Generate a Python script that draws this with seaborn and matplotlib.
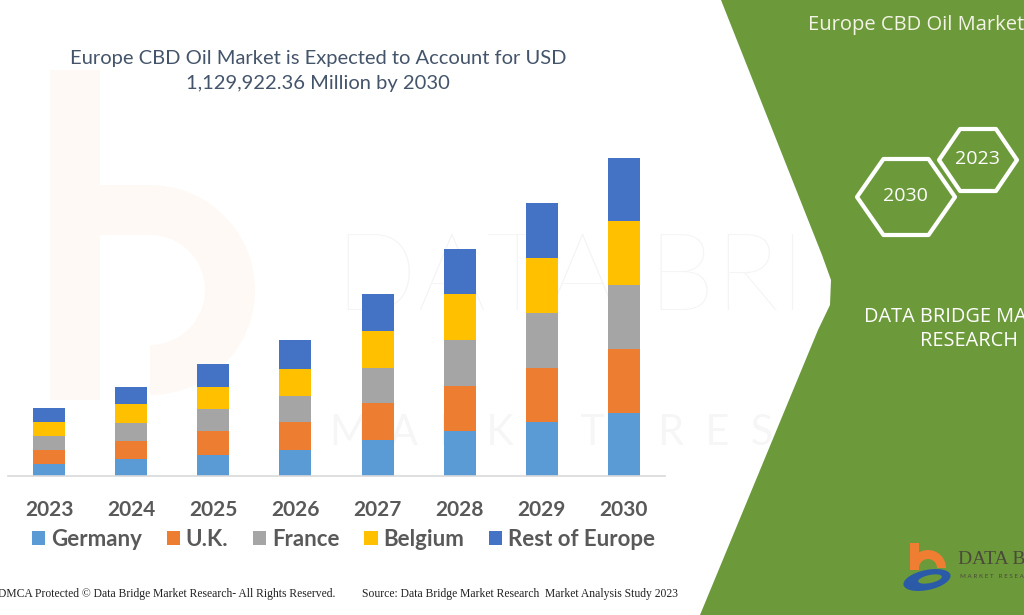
import numpy as np
import pandas as pd
import matplotlib
matplotlib.use("Agg")
import matplotlib.pyplot as plt
import seaborn as sns
from matplotlib.patches import Polygon, Rectangle, Wedge, Ellipse

# ---------------- data (USD Million) ----------------
years = ["2023", "2024", "2025", "2026", "2027", "2028", "2029", "2030"]
germany = [42500, 60300, 74500, 92200, 127600, 159500, 192900, 224800]
uk = [49600, 64900, 84000, 99300, 132600, 159500, 191400, 226900]
france = [48600, 63800, 79100, 92200, 124100, 163100, 195000, 228000]
belgium = [49600, 66300, 79100, 98200, 132200, 165600, 195000, 225800]
rest_of_europe = [49600, 61300, 83000, 100300, 131200, 158500, 197100, 224400]
series_names = ["Germany", "U.K.", "France", "Belgium", "Rest of Europe"]
colors = ["#5b9bd5", "#ed7d31", "#a5a5a5", "#ffc000", "#4472c4"]

title_text = "Europe CBD Oil Market is Expected to Account for USD\n1,129,922.36 Million by 2030"

sns.set_theme(style="white")
plt.rcParams["font.family"] = ["Lato", "DejaVu Sans"]

W, H = 1024, 615
fig = plt.figure(figsize=(W / 100, H / 100), dpi=100)
fig.patch.set_facecolor("white")

# ---------------- background overlay (pixel coordinates) ----------------
bg = fig.add_axes([0, 0, 1, 1], zorder=-5)
bg.set_xlim(0, W)
bg.set_ylim(H, 0)
bg.axis("off")

# faint watermark (logo shape + lettering)
wm_orange = "#f28c4a"
bg.add_patch(Rectangle((50, 70), 50, 330, facecolor=wm_orange, alpha=0.05,
                       edgecolor="none", zorder=0))
bg.add_patch(Wedge((150, 290), 105, -90, 90, width=50, facecolor=wm_orange,
                   alpha=0.05, edgecolor="none", zorder=0))
bg.add_patch(Rectangle((100, 185), 50, 50, facecolor=wm_orange, alpha=0.05,
                       edgecolor="none", zorder=0))
bg.text(335, 310, "DATA BRI", fontsize=78, color="#000000", alpha=0.045,
        fontweight="light", ha="left", va="baseline", zorder=0)
bg.text(330, 445, "M  A  R  K  E  T     R  E  S", fontsize=30,
        color="#000000", alpha=0.035, ha="left", va="baseline", zorder=0)

# green panel
green = Polygon([(721, 0), (W, 0), (W, H), (700, H), (818, 330), (830, 305),
                 (831, 280), (822, 255)], closed=True, facecolor="#6c9a3b",
                edgecolor="none", zorder=1)
bg.add_patch(green)

bg.text(808, 25, "Europe CBD Oil Market, By Country", fontsize=14.5,
        color="#f4f4e6", family=["Open Sans", "DejaVu Sans"], ha="left",
        va="center", zorder=3)


def hexagon(cx, cy, w, h):
    q = w * 0.27
    return [(cx - w / 2, cy), (cx - w / 2 + q, cy - h / 2), (cx + w / 2 - q, cy - h / 2),
            (cx + w / 2, cy), (cx + w / 2 - q, cy + h / 2), (cx - w / 2 + q, cy + h / 2)]


bg.add_patch(Polygon(hexagon(906, 197, 98, 76), closed=True, facecolor="none",
                     edgecolor="white", lw=3, joinstyle="round", zorder=3))
bg.add_patch(Polygon(hexagon(978, 160, 78, 62), closed=True, facecolor="none",
                     edgecolor="white", lw=3, joinstyle="round", zorder=3))
bg.text(905, 196, "2030", fontsize=14, color="white",
        family=["Open Sans", "DejaVu Sans"], ha="center", va="center", zorder=4)
bg.text(977, 159, "2023", fontsize=14, color="white",
        family=["Open Sans", "DejaVu Sans"], ha="center", va="center", zorder=4)

bg.text(969, 329, "DATA BRIDGE MARKET\nRESEARCH", fontsize=14.3, color="white",
        family=["Open Sans", "DejaVu Sans"], ha="center", va="center",
        linespacing=1.3, zorder=4)

# logo
bg.add_patch(Rectangle((910, 543), 9, 27, facecolor="#ef7d32", edgecolor="none", zorder=4))
bg.add_patch(Wedge((928, 568), 18, 180, 360, width=9, facecolor="#ef7d32",
                   edgecolor="none", zorder=4))
bg.add_patch(Ellipse((927, 580), 48, 20, angle=-12, facecolor="#2b5aa8",
                     edgecolor="none", zorder=5))
bg.add_patch(Ellipse((930, 579), 24, 8, angle=-12, facecolor="#6c9a3b",
                     edgecolor="none", zorder=6))
bg.text(958, 559, "DATA BRIDGE", fontsize=14, color="#4a4a3a",
        family=["Liberation Serif", "DejaVu Serif"], ha="left", va="center", zorder=4)
bg.text(960, 576, "M A R K E T   R E S E A R C H", fontsize=4.5, color="#4a4a3a",
        ha="left", va="center", zorder=4)

# footer
bg.text(-2, 594, "DMCA Protected \u00a9 Data Bridge Market Research- All Rights Reserved.",
        fontsize=8.4, color="#222222", family=["Liberation Serif", "DejaVu Serif"],
        ha="left", va="center", zorder=4)
bg.text(362, 594, "Source: Data Bridge Market Research  Market Analysis Study 2023",
        fontsize=8.4, color="#222222", family=["Liberation Serif", "DejaVu Serif"],
        ha="left", va="center", zorder=4)

# title
bg.text(318, 71, title_text, fontsize=14.5, color="#44546a", ha="center",
        va="center", linespacing=1.55, zorder=4)

# ---------------- chart axes ----------------
ax_left, ax_right = 8 / W, 665 / W
ax_bottom, ax_top = (H - 476) / H, (H - 150) / H
ax = fig.add_axes([ax_left, ax_bottom, ax_right - ax_left, ax_top - ax_bottom], zorder=2)
ax.set_facecolor("none")

df = pd.DataFrame({"year": years, "Germany": germany, "U.K.": uk, "France": france,
                   "Belgium": belgium, "Rest of Europe": rest_of_europe})
cum = df[series_names].cumsum(axis=1)

# draw stacked bars: largest cumulative first, then overlay smaller ones
for name, col in reversed(list(zip(series_names, colors))):
    sns.barplot(x=df["year"], y=cum[name], color=col, saturation=1, width=0.39,
                ax=ax, linewidth=0, edgecolor="none")

ax.set_xlim(-0.5, len(years) - 0.5)
ymax_px = 476 - 150
px_per_unit = (476 - 158) / cum["Rest of Europe"].iloc[-1]
ax.set_ylim(0, ymax_px / px_per_unit)
ax.set_xlabel("")
ax.set_ylabel("")
ax.set_yticks([])
for s in ["top", "right", "left"]:
    ax.spines[s].set_visible(False)
ax.spines["bottom"].set_color("#d9d9d9")
ax.spines["bottom"].set_linewidth(1.2)
ax.tick_params(axis="x", length=0, pad=17, labelsize=15, labelcolor="#595959")
for lab in ax.get_xticklabels():
    lab.set_fontweight("bold")

handles = [Rectangle((0, 0), 1, 1, facecolor=c, edgecolor="none") for c in colors]
leg = fig.legend(handles, series_names, loc="center left",
                 bbox_to_anchor=(23 / W, 1 - 539 / H), ncol=5, frameon=False,
                 handlelength=0.6, handleheight=0.6, handletextpad=0.25,
                 columnspacing=1.12, borderaxespad=0,
                 prop={"family": "Lato", "weight": "bold", "size": 16})
for t in leg.get_texts():
    t.set_color("#595959")

fig.savefig("out.png", dpi=100)
